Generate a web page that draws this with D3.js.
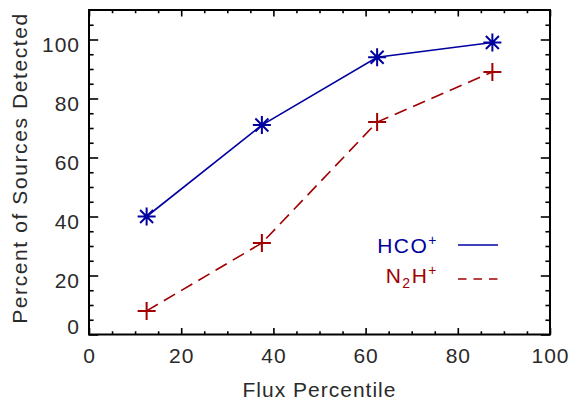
<!DOCTYPE html>
<html><head><meta charset="utf-8">
<script src="https://cdn.jsdelivr.net/npm/d3@7"></script>
<style>
body{margin:0;background:#fff}
text{font-family:"Liberation Sans",Arial,Helvetica,sans-serif}
</style></head>
<body><svg id="c" width="571" height="406"></svg>
<script>
const percentiles = [12.5, 37.5, 62.5, 87.5];
const hcoValues = [40, 71, 94, 99];
const n2hValues = [8, 31, 72, 89];
const xTicks = [0, 20, 40, 60, 80, 100];
const yTicks = [0, 20, 40, 60, 80, 100];
const xMinor = [5,10,15,25,30,35,45,50,55,65,70,75,85,90,95];
const yMinor = [5,10,15,25,30,35,45,50,55,65,70,75,85,90,95,105];

const BLUE = "#0000a0", RED = "#a00000", INK = "#2a2a2a";
const L = 89, R = 550, T = 10, B = 334.5;
const svg = d3.select("#c");
const x = d3.scaleLinear().domain([0, 100]).range([L, R]);
const y = d3.scaleLinear().domain([0, 110]).range([B, T]);

function styleAxis(g) {
  g.select(".domain").remove();
  g.selectAll(".tick line").attr("stroke", "#000").attr("stroke-width", 1.6);
  g.selectAll(".tick text").attr("fill", INK).style("font-size", "21px").style("letter-spacing", "1px");
}
// bottom
svg.append("g").attr("transform", `translate(0,${B})`)
  .call(d3.axisBottom(x).tickValues(xTicks).tickSize(-6.5).tickPadding(13.5)).call(styleAxis);
svg.append("g").attr("transform", `translate(0,${B})`)
  .call(d3.axisBottom(x).tickValues(xMinor).tickSize(-3.25).tickFormat("")).call(styleAxis);
// top
svg.append("g").attr("transform", `translate(0,${T})`)
  .call(d3.axisTop(x).tickValues(xTicks).tickSize(-6.5).tickFormat("")).call(styleAxis);
svg.append("g").attr("transform", `translate(0,${T})`)
  .call(d3.axisTop(x).tickValues(xMinor).tickSize(-3.25).tickFormat("")).call(styleAxis);
// left
const gl = svg.append("g").attr("transform", `translate(${L},0)`)
  .call(d3.axisLeft(y).tickValues(yTicks).tickSize(-9.2).tickPadding(9)).call(styleAxis);
gl.selectAll(".tick text").attr("dy", d => d === 0 ? "-0.03em" : "0.55em");
svg.append("g").attr("transform", `translate(${L},0)`)
  .call(d3.axisLeft(y).tickValues(yMinor).tickSize(-4.6).tickFormat("")).call(styleAxis);
// right
svg.append("g").attr("transform", `translate(${R},0)`)
  .call(d3.axisRight(y).tickValues(yTicks).tickSize(-9.2).tickFormat("")).call(styleAxis);
svg.append("g").attr("transform", `translate(${R},0)`)
  .call(d3.axisRight(y).tickValues(yMinor).tickSize(-4.6).tickFormat("")).call(styleAxis);

// frame
svg.append("rect").attr("x", L).attr("y", T).attr("width", R - L).attr("height", B - T)
  .attr("fill", "none").attr("stroke", "#000").attr("stroke-width", 2);

// titles
svg.append("text").attr("x", (L + R) / 2).attr("y", 396.5).attr("text-anchor", "middle")
  .attr("fill", INK).style("font-size", "21px").style("letter-spacing", "1px").text("Flux Percentile");
svg.append("text").attr("transform", "translate(27,168) rotate(-90)").attr("text-anchor", "middle")
  .attr("fill", INK).style("font-size", "21px").style("letter-spacing", "1.6px").text("Percent of Sources Detected");

// lines
const hco = percentiles.map((p, i) => [p, hcoValues[i]]);
const n2h = percentiles.map((p, i) => [p, n2hValues[i]]);
const line = d3.line().x(d => x(d[0])).y(d => y(d[1]));
svg.append("path").attr("d", line(hco)).attr("fill", "none").attr("stroke", BLUE).attr("stroke-width", 1.6);
svg.append("path").attr("d", line(n2h)).attr("fill", "none").attr("stroke", RED).attr("stroke-width", 1.6)
  .attr("stroke-dasharray", "13,7");

// markers
const r = 9, rd = 6.5;
svg.append("g").selectAll("path").data(hco).join("path")
  .attr("transform", d => `translate(${x(d[0])},${y(d[1])})`)
  .attr("d", `M${-r},0H${r}M0,${-r}V${r}M${-rd},${-rd}L${rd},${rd}M${-rd},${rd}L${rd},${-rd}`)
  .attr("stroke", BLUE).attr("stroke-width", 2).attr("fill", "none");
svg.append("g").selectAll("path").data(n2h).join("path")
  .attr("transform", d => `translate(${x(d[0])},${y(d[1])})`)
  .attr("d", `M${-r},0H${r}M0,${-r}V${r}`)
  .attr("stroke", RED).attr("stroke-width", 2).attr("fill", "none");

// legend
const lg = svg.append("g");
const t1 = lg.append("text").attr("x", 438).attr("y", 253).attr("text-anchor", "end")
  .attr("fill", BLUE).style("font-size", "21px").style("letter-spacing", "1.5px");
t1.append("tspan").text("HCO");
t1.append("tspan").attr("dy", -8).style("font-size", "14px").text("+");
const t2 = lg.append("text").attr("x", 438).attr("y", 283).attr("text-anchor", "end")
  .attr("fill", RED).style("font-size", "21px").style("letter-spacing", "1.5px");
t2.append("tspan").text("N");
t2.append("tspan").attr("dy", 5).style("font-size", "14px").text("2");
t2.append("tspan").attr("dy", -5).text("H");
t2.append("tspan").attr("dy", -8).style("font-size", "14px").text("+");
lg.append("line").attr("x1", 458).attr("x2", 498).attr("y1", 245).attr("y2", 245)
  .attr("stroke", BLUE).attr("stroke-width", 1.6);
lg.append("line").attr("x1", 458).attr("x2", 498).attr("y1", 279).attr("y2", 279)
  .attr("stroke", RED).attr("stroke-width", 1.6).attr("stroke-dasharray", "8.5,7");
</script></body></html>
